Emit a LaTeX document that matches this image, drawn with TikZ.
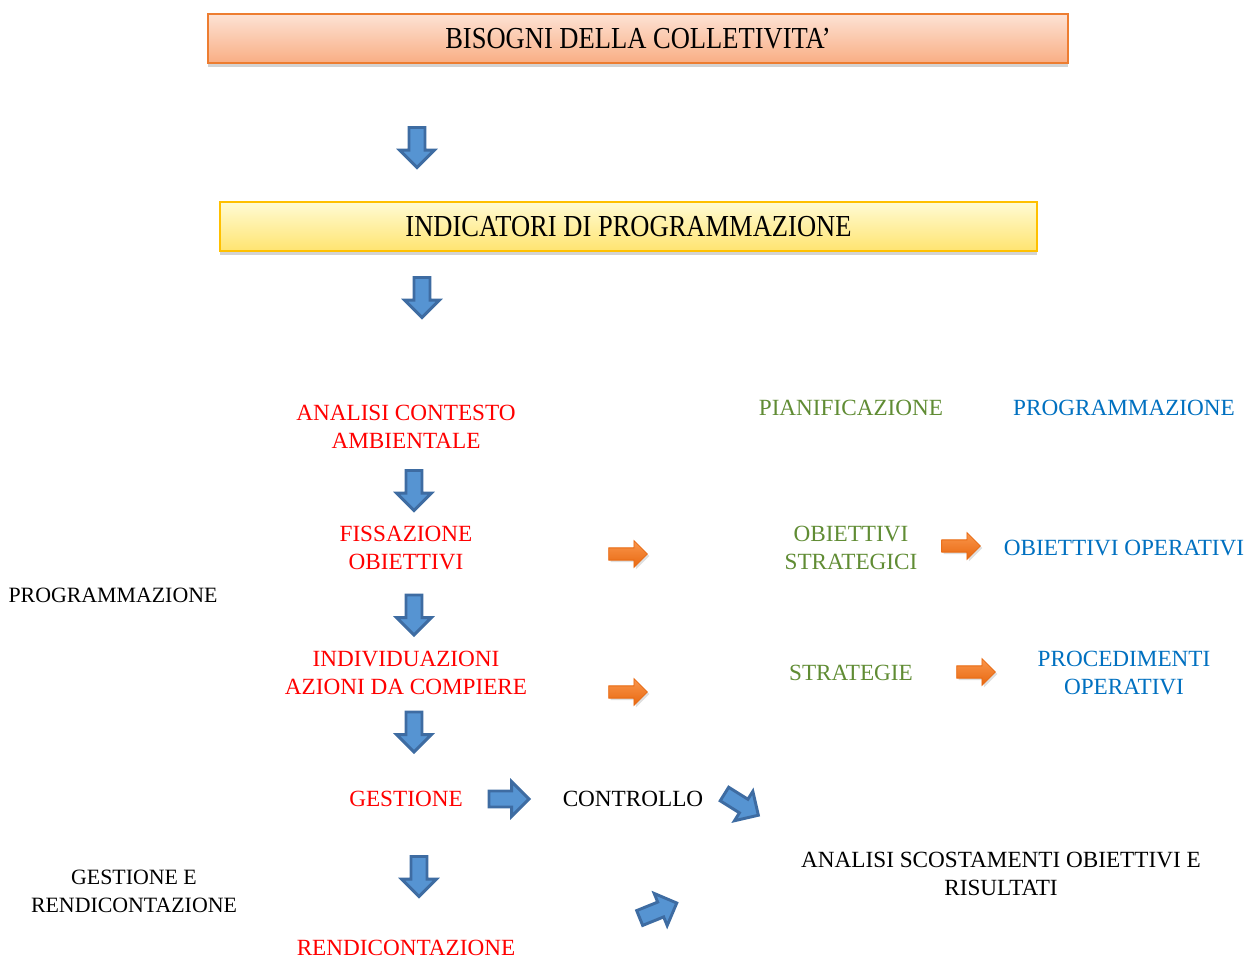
\documentclass[tikz,border=0pt]{standalone}
\usepackage{fontspec}
\setmainfont{Liberation Serif}
\usetikzlibrary{shapes.arrows,shadows,positioning}
\definecolor{bgorange}{RGB}{237,125,49}
\definecolor{orlight}{RGB}{253,226,212}
\definecolor{ordark}{RGB}{249,174,132}
\definecolor{yeborder}{RGB}{255,192,0}
\definecolor{yelight}{RGB}{255,251,212}
\definecolor{yedark}{RGB}{255,228,112}
\definecolor{arrdark}{RGB}{62,108,162}
\definecolor{arrlight}{RGB}{86,148,210}
\definecolor{txred}{RGB}{255,0,0}
\definecolor{txgreen}{RGB}{96,140,52}
\definecolor{txblue}{RGB}{0,112,192}
\definecolor{arrorange}{RGB}{232,104,16}
\definecolor{arrorlight}{RGB}{250,150,76}
\tikzset{
  titlebox/.style={draw, line width=1.2pt, minimum height=36.75pt, inner sep=0pt,
    font=\fontsize{19.9}{24}\selectfont, drop shadow={shadow xshift=0pt, shadow yshift=-3pt, opacity=.35}},
  txt/.style={inner sep=0pt, align=center, font=\fontsize{17.4}{21}\selectfont},
  sidetxt/.style={inner sep=0pt, align=center, font=\fontsize{16.4}{21}\selectfont},
  redtxt/.style={txt, text=txred},
  greentxt/.style={txt, text=txgreen},
  bluetxt/.style={txt, text=txblue},
  bluearrow/.style={single arrow, draw=arrdark, fill=arrlight, line width=2.2pt, inner sep=0pt,
    inner ysep=4.9pt, single arrow head extend=7pt, minimum height=30pt},
  orangearrow/.style={single arrow, draw=arrorange, top color=arrorlight, bottom color=arrorange,
    line width=.6pt, inner sep=0pt, inner ysep=4.3pt, single arrow head extend=5.5pt, minimum height=29pt,
    drop shadow={shadow xshift=1.5pt, shadow yshift=-1.5pt, opacity=.25}}
}
\begin{document}
\begin{tikzpicture}[x=0.75pt,y=-0.75pt]
  \useasboundingbox (0,0) rectangle (1245,959);
  % top boxes
  \node[titlebox, draw=bgorange, top color=orlight, bottom color=ordark, minimum width=645pt] (bisogni) at (638,38.5)
    {\scalebox{1}[1.15]{BISOGNI DELLA COLLETIVITA’}};
  \node[bluearrow, rotate=-90] (down1) at (417,143.5) {};
  \node[titlebox, draw=yeborder, top color=yelight, bottom color=yedark, minimum width=612.75pt] (indicatori) at (628.5,226.5)
    {\scalebox{1}[1.15]{INDICATORI DI PROGRAMMAZIONE}};
  \node[bluearrow, rotate=-90] (down2) at (422,293.5) {};

  % main column
  \node[redtxt] (analisi) at (406,427) {ANALISI CONTESTO\\AMBIENTALE};
  \node[bluearrow, rotate=-90] (down3) at (414,486.5) {};
  \node[redtxt] (fissazione) at (406,548) {FISSAZIONE\\OBIETTIVI};
  \node[bluearrow, rotate=-90] (down4) at (414,611) {};
  \node[redtxt] (azioni) at (406,673) {INDIVIDUAZIONI\\AZIONI DA COMPIERE};
  \node[bluearrow, rotate=-90] (down5) at (414,728) {};
  \node[redtxt] (gestione) at (406,799) {GESTIONE};
  \node[bluearrow] (right1) at (505,799) {};
  \node[txt] (controllo) at (633,799) {CONTROLLO};
  \node[bluearrow, rotate=-32] (diag1) at (738,802.5) {};
  \node[txt] (scostamenti) at (1001,874) {ANALISI SCOSTAMENTI OBIETTIVI E\\RISULTATI};
  \node[bluearrow, rotate=-90] (down6) at (419,872.5) {};
  \node[redtxt] (rendicontazione) at (406,948) {RENDICONTAZIONE};
  \node[bluearrow, rotate=22] (diag2) at (654.5,912) {};

  % side labels
  \node[sidetxt] (proglbl) at (113,595) {PROGRAMMAZIONE};
  \node[sidetxt] (gestlbl) at (134,891) {GESTIONE E\\RENDICONTAZIONE};

  % right part
  \node[greentxt] (pianif) at (851,408) {PIANIFICAZIONE};
  \node[bluetxt] (program) at (1124,408) {PROGRAMMAZIONE};
  \node[orangearrow] (or1) at (625,554) {};
  \node[greentxt] (obstrat) at (851,548) {OBIETTIVI\\STRATEGICI};
  \node[orangearrow] (or3) at (958,546) {};
  \node[bluetxt] (oboper) at (1124,548) {OBIETTIVI OPERATIVI};
  \node[orangearrow] (or2) at (625,692) {};
  \node[greentxt] (strategie) at (851,673) {STRATEGIE};
  \node[orangearrow] (or4) at (973,672) {};
  \node[bluetxt] (procop) at (1124,673) {PROCEDIMENTI\\OPERATIVI};
\end{tikzpicture}
\end{document}
